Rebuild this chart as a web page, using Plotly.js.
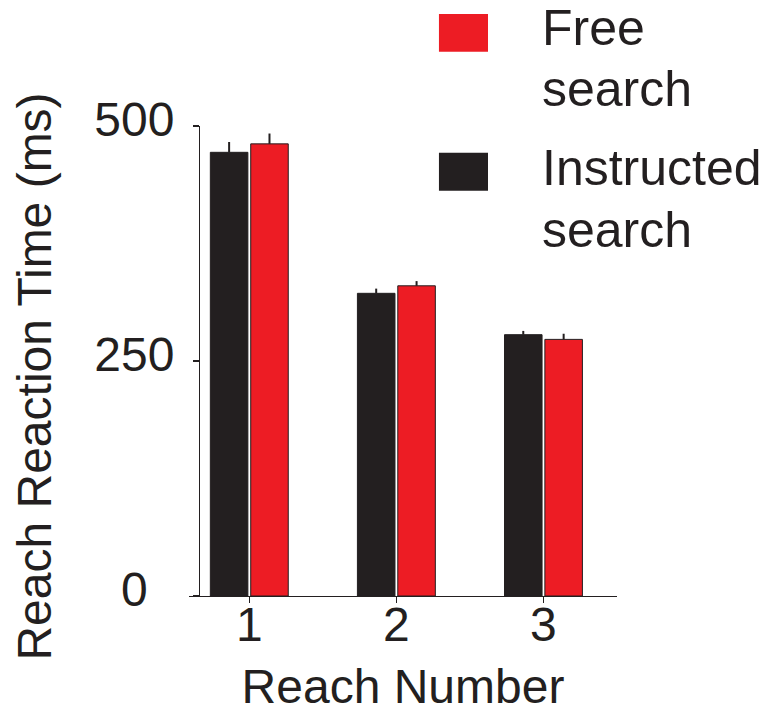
<!DOCTYPE html>
<html>
<head>
<meta charset="utf-8">
<script src="https://cdn.plot.ly/plotly-3.0.1.min.js"></script>
<style>html,body{margin:0;padding:0;background:#fff;}#chart{width:771px;height:713px;}</style>
</head>
<body>
<div id="chart"></div>
<script>
// Data
const reachNumbers = [1, 2, 3];
const seriesNames = ["Instructed search", "Free search"];
const instructedRT = [472, 322, 278];
const instructedErr = [11, 5, 4];
const freeRT = [481, 330, 273];
const freeErr = [11, 5, 6];
const yTickVals = [0, 250, 500];
const yTickText = ["0\u00a0\u00a0", "250", "500"];
const xTitle = "Reach Number";
const yTitle = "Reach Reaction Time (ms)";

const INK = "#231f20";
const RED = "#ed1c24";
const FONT = "Liberation Sans, Arial, sans-serif";
const FS = 48;
const LFS = 50;

function bar(name, y, err, color) {
  return {
    type: "bar", name: name, x: reachNumbers, y: y,
    marker: {color: color, line: {color: INK, width: 1}},
    error_y: {type: "data", symmetric: false, array: err, arrayminus: err.map(() => 0),
              width: 0, thickness: 2, color: INK},
    showlegend: false, hoverinfo: "x+y"
  };
}

const traces = [
  bar(seriesNames[0], instructedRT, instructedErr, INK),
  bar(seriesNames[1], freeRT, freeErr, RED)
];

// legend drawn manually (large swatches), one text line per annotation
const legendItems = [
  {name: seriesNames[1], color: RED, y0: 1.1582, y1: 1.2385, ty: [1.2090, 1.0780]},
  {name: seriesNames[0], color: INK, y0: 0.8622, y1: 0.9432, ty: [0.9110, 0.7790]}
];
const shapes = legendItems.map(it => ({
  type: "rect", xref: "paper", yref: "paper", x0: 0.584, x1: 0.6986, y0: it.y0, y1: it.y1,
  fillcolor: it.color, line: {width: 0}
}));
const annotations = [];
legendItems.forEach(it => {
  it.name.split(" ").forEach((word, i) => {
    annotations.push({
      xref: "paper", yref: "paper", x: 0.820, y: it.ty[i], xanchor: "left", yanchor: "middle",
      align: "left", showarrow: false, text: word,
      font: {family: FONT, size: LFS, color: INK}
    });
  });
});
// y-axis title (positioned like the reference, slightly below the axis centre)
annotations.push({
  xref: "paper", yref: "paper", x: -0.360, y: 0.4667, xanchor: "center", yanchor: "middle",
  textangle: -90, showarrow: false, text: yTitle,
  font: {family: FONT, size: FS, color: INK}
});

const layout = {
  width: 771, height: 713,
  margin: {l: 189, r: 154, t: 126, b: 117, pad: 0},
  paper_bgcolor: "#fff", plot_bgcolor: "#fff",
  font: {family: FONT, size: FS, color: INK},
  barmode: "group", bargap: 0.451, bargroupgap: 0.07,
  xaxis: {
    range: [0.59, 3.5], tickvals: reachNumbers, ticktext: reachNumbers.map(String),
    showline: true, linecolor: INK, linewidth: 1.3, showgrid: false, zeroline: false,
    ticks: "outside", ticklen: 6, tickwidth: 1.3, tickcolor: INK,
    ticklabelstandoff: -20,
    tickfont: {family: FONT, size: FS, color: INK},
    title: {text: xTitle, font: {family: FONT, size: FS, color: INK}, standoff: 19},
    automargin: false, fixedrange: true
  },
  yaxis: {
    range: [0, 500], tickvals: yTickVals, ticktext: yTickText,
    anchor: "free", position: 0.0234,
    showline: true, linecolor: INK, linewidth: 1.3, showgrid: false, zeroline: false,
    ticks: "outside", ticklen: 6, tickwidth: 1.3, tickcolor: INK,
    ticklabelstandoff: 9, ticklabelshift: -7,
    tickfont: {family: FONT, size: FS, color: INK},
    automargin: false, fixedrange: true
  },
  shapes: shapes,
  annotations: annotations,
  showlegend: false
};

Plotly.newPlot("chart", traces, layout, {displayModeBar: false, staticPlot: true});
</script>
</body>
</html>
